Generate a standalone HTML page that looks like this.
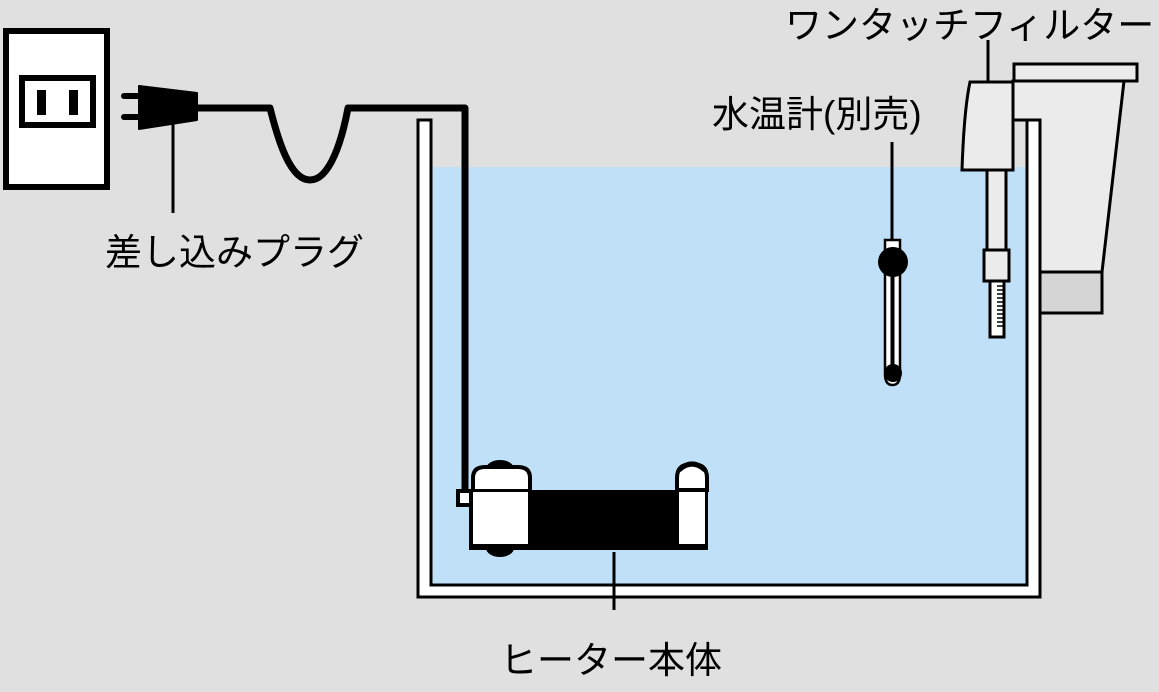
<!DOCTYPE html>
<html><head><meta charset="utf-8"><style>
html,body{margin:0;padding:0;background:#e0e0e0;}
svg{display:block}
text{font-family:"Liberation Sans","Noto Sans CJK JP",sans-serif;font-size:37px;fill:#000;}
</style></head><body>
<svg width="1159" height="692" viewBox="0 0 1159 692" xmlns="http://www.w3.org/2000/svg">
<rect width="1159" height="692" fill="#e0e0e0"/>
<!-- outlet -->
<rect x="6" y="31" width="101" height="156" fill="#fff" stroke="#000" stroke-width="6"/>
<rect x="22" y="78" width="71" height="47" fill="#fff" stroke="#000" stroke-width="6"/>
<rect x="37" y="90" width="9" height="25" fill="#000"/>
<rect x="69" y="90" width="9" height="25" fill="#000"/>
<!-- plug -->
<line x1="124" y1="96" x2="140" y2="96" stroke="#000" stroke-width="6" stroke-linecap="round"/>
<line x1="124" y1="117" x2="140" y2="117" stroke="#000" stroke-width="6" stroke-linecap="round"/>
<polygon points="139,86 197,93 197,120 139,129" fill="#000" stroke="#000" stroke-width="2" stroke-linejoin="round"/>
<line x1="173" y1="120" x2="173" y2="213" stroke="#000" stroke-width="3"/>
<text x="105" y="265">差し込みプラグ</text>
<!-- water -->
<rect x="431" y="167" width="597" height="418" fill="#bfe0f7"/>
<!-- filter body -->
<polygon points="1013,81 1124,81 1102,272 1040,272 1040,120 1013,120" fill="#ebebeb" stroke="#000" stroke-width="3"/>
<rect x="1040" y="272" width="62" height="41" fill="#d5d5d5" stroke="#000" stroke-width="3"/>
<rect x="1014" y="64" width="123" height="17" fill="#ebebeb" stroke="#000" stroke-width="3"/>
<!-- tank walls -->
<path d="M418,120 L418,597 L1040,597 L1040,120 L1027,120 L1027,585 L431,585 L431,120 Z" fill="#fff" stroke="#000" stroke-width="3"/>
<!-- cord -->
<path d="M196,108 L270,108 C278,140 290,180 310,180 C330,180 342,140 348,108 L465,108 L465,492" fill="none" stroke="#000" stroke-width="7" stroke-linejoin="round"/>
<!-- heater -->
<ellipse cx="500" cy="469" rx="14" ry="9" fill="#000"/>
<ellipse cx="500" cy="548" rx="14" ry="9" fill="#000"/>
<path d="M473,544 L473,478 Q473,467 485,467 L518,467 Q530,467 530,478 L530,544 Z" fill="#fff" stroke="#000" stroke-width="4"/>
<line x1="473" y1="491" x2="530" y2="491" stroke="#000" stroke-width="4"/>
<rect x="458" y="491" width="14" height="14" fill="#fff" stroke="#000" stroke-width="4"/>
<rect x="530" y="490" width="178" height="59" fill="#000"/>
<path d="M677,490 L677,478 Q677,464 692,464 Q707,464 707,478 L707,490 Z" fill="#fff" stroke="#000" stroke-width="4"/>
<path d="M679,470 Q692,458 705,470" fill="none" stroke="#000" stroke-width="5"/>
<rect x="679" y="492" width="26" height="52" fill="#fff"/>
<rect x="471" y="492" width="57" height="52" fill="#fff"/>
<path d="M471,490 L471,548 L708,548" fill="none" stroke="#000" stroke-width="4"/>
<line x1="614" y1="552" x2="614" y2="610" stroke="#000" stroke-width="3"/>
<text x="500" y="673">ヒーター本体</text>
<!-- thermometer -->
<line x1="892" y1="142" x2="892" y2="240" stroke="#000" stroke-width="3"/>
<path d="M885,240 L900,240 L900,374 Q900,385 892.5,385 Q885,385 885,374 Z" fill="#fff" stroke="#000" stroke-width="2.5"/>
<line x1="892.5" y1="265" x2="892.5" y2="372" stroke="#000" stroke-width="4"/>
<circle cx="893" cy="262" r="15" fill="#000"/>
<circle cx="893" cy="373" r="9" fill="#000"/>
<text x="712" y="127">水温計(別売)</text>
<!-- filter head -->
<line x1="988" y1="40" x2="988" y2="84" stroke="#000" stroke-width="3"/>
<path d="M970,82 L1013,82 L1013,170 L962,170 Q964,110 970,82 Z" fill="#ebebeb" stroke="#000" stroke-width="3"/>
<rect x="987" y="170" width="19" height="80" fill="#ebebeb" stroke="#000" stroke-width="3"/>
<rect x="984" y="250" width="25" height="31" fill="#ebebeb" stroke="#000" stroke-width="3"/>
<rect x="990" y="281" width="14" height="56" fill="#fff" stroke="#000" stroke-width="3"/>
<path d="M997,286 h6 M997,290 h6 M997,294 h6 M997,298 h6 M997,302 h6 M997,306 h6 M997,310 h6 M997,314 h6 M997,318 h6 M997,322 h6 M997,326 h6" stroke="#000" stroke-width="1.5"/>
<text x="785" y="38">ワンタッチフィルター</text>
</svg>
</body></html>
